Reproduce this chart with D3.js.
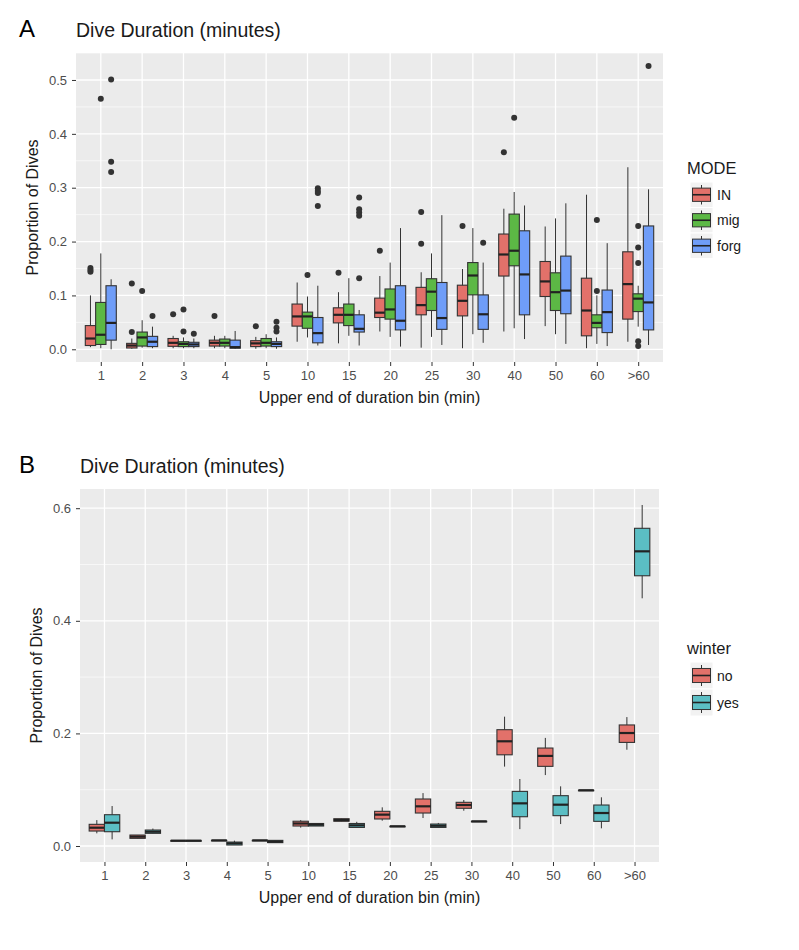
<!DOCTYPE html>
<html>
<head>
<meta charset="utf-8">
<script src="https://d3js.org/d3.v7.min.js"></script>
<style>
  body { margin: 0; background: #fff; }
  text { font-family: "Liberation Sans", Arial, sans-serif; }
</style>
</head>
<body>
<div id="chart"></div>
<script>
// ---- data ----
var bins = ["1", "2", "3", "4", "5", "10", "15", "20", "25", "30", "40", "50", "60", ">60"];

// panel A: box stats per bin = [lower whisker, q1, median, q3, upper whisker]
var modes = ["IN", "mig", "forg"];
var inStats = [
  [0.004, 0.007, 0.020, 0.044, 0.100],
  [0.001, 0.0024, 0.007, 0.011, 0.020],
  [0.002, 0.0055, 0.012, 0.020, 0.025],
  [0.002, 0.006, 0.012, 0.017, 0.025],
  [0.001, 0.005, 0.011, 0.016, 0.023],
  [0.014, 0.043, 0.061, 0.084, 0.124],
  [0.011, 0.049, 0.064, 0.077, 0.106],
  [0.033, 0.059, 0.068, 0.095, 0.136],
  [0.003, 0.064, 0.082, 0.115, 0.143],
  [0.002, 0.062, 0.090, 0.119, 0.149],
  [0.033, 0.136, 0.176, 0.214, 0.261],
  [0.043, 0.098, 0.126, 0.163, 0.228],
  [0.002, 0.025, 0.072, 0.132, 0.287],
  [0.014, 0.056, 0.121, 0.181, 0.338]
];
var migStats = [
  [0.002, 0.009, 0.027, 0.087, 0.178],
  [0.003, 0.006, 0.022, 0.032, 0.054],
  [0.002, 0.005, 0.010, 0.014, 0.022],
  [0.002, 0.006, 0.012, 0.019, 0.025],
  [0.002, 0.006, 0.012, 0.020, 0.028],
  [0.022, 0.039, 0.061, 0.069, 0.098],
  [0.025, 0.044, 0.064, 0.084, 0.132],
  [0.023, 0.056, 0.074, 0.112, 0.161],
  [0.023, 0.072, 0.107, 0.131, 0.178],
  [0.028, 0.101, 0.137, 0.161, 0.225],
  [0.039, 0.155, 0.183, 0.251, 0.292],
  [0.028, 0.072, 0.106, 0.142, 0.243],
  [0.010, 0.040, 0.049, 0.064, 0.100],
  [0.042, 0.070, 0.094, 0.103, 0.118]
];
var forgStats = [
  [0.000, 0.017, 0.049, 0.118, 0.130],
  [0.002, 0.005, 0.014, 0.024, 0.042],
  [0.002, 0.005, 0.009, 0.013, 0.020],
  [0.001, 0.002, 0.004, 0.017, 0.034],
  [0.001, 0.005, 0.010, 0.014, 0.022],
  [0.007, 0.012, 0.030, 0.059, 0.118],
  [0.007, 0.032, 0.038, 0.064, 0.073],
  [0.005, 0.036, 0.053, 0.118, 0.225],
  [0.008, 0.037, 0.058, 0.124, 0.249],
  [0.012, 0.037, 0.065, 0.101, 0.161],
  [0.019, 0.064, 0.139, 0.220, 0.267],
  [0.010, 0.066, 0.109, 0.173, 0.271],
  [0.006, 0.031, 0.069, 0.110, 0.197],
  [0.008, 0.036, 0.087, 0.229, 0.297]
];
// outliers per bin
var inOut = [[0.151, 0.147, 0.144], [0.122, 0.032], [0.065], [0.062], [0.043], [], [0.142], [0.183], [0.255, 0.196], [0.229], [0.366], [], [], []];
var migOut = [[0.465], [0.108], [0.074, 0.033], [], [], [0.138], [], [], [], [], [0.430], [], [0.240, 0.108], [0.229, 0.189, 0.160, 0.015, 0.006]];
var forgOut = [[0.501, 0.348, 0.329], [0.062], [0.029], [], [0.051, 0.040, 0.033], [0.299, 0.294, 0.290, 0.266], [0.282, 0.260, 0.254, 0.248, 0.132], [], [], [0.198], [], [], [], [0.526]];

// panel B
var winters = ["no", "yes"];
var noStats = [
  [0.0225, 0.0266, 0.0325, 0.0385, 0.046],
  [0.0136, 0.0136, 0.0166, 0.0195, 0.0195],
  [0.0095, 0.0095, 0.0095, 0.0095, 0.0095],
  [0.010, 0.010, 0.010, 0.010, 0.010],
  [0.010, 0.010, 0.010, 0.010, 0.010],
  [0.0326, 0.0355, 0.040, 0.044, 0.046],
  [0.044, 0.044, 0.046, 0.0485, 0.0485],
  [0.045, 0.048, 0.0557, 0.0616, 0.0687],
  [0.0497, 0.0586, 0.0705, 0.0835, 0.094],
  [0.0627, 0.067, 0.0728, 0.0776, 0.0817],
  [0.141, 0.162, 0.186, 0.2066, 0.2297],
  [0.126, 0.1415, 0.160, 0.174, 0.192],
  [0.099, 0.099, 0.099, 0.099, 0.099],
  [0.171, 0.184, 0.2007, 0.215, 0.229]
];
var yesStats = [
  [0.0118, 0.0254, 0.0414, 0.0556, 0.071],
  [0.0225, 0.0225, 0.0254, 0.0284, 0.031],
  [0.0095, 0.0095, 0.0095, 0.0095, 0.0095],
  [0.0018, 0.0018, 0.0047, 0.007, 0.0095],
  [0.006, 0.006, 0.0077, 0.010, 0.010],
  [0.0355, 0.0355, 0.0379, 0.040, 0.040],
  [0.033, 0.033, 0.0367, 0.040, 0.043],
  [0.035, 0.035, 0.035, 0.035, 0.035],
  [0.033, 0.033, 0.036, 0.039, 0.041],
  [0.0438, 0.0438, 0.0438, 0.0438, 0.0438],
  [0.030, 0.052, 0.0758, 0.097, 0.119],
  [0.039, 0.0539, 0.0734, 0.0894, 0.106],
  [0.0314, 0.0438, 0.0586, 0.0728, 0.0865],
  [0.440, 0.480, 0.5234, 0.5643, 0.6057]
];

var yTicksA = [0, 0.1, 0.2, 0.3, 0.4, 0.5];
var yMinorA = [0.05, 0.15, 0.25, 0.35, 0.45, 0.55];
var yTicksB = [0, 0.2, 0.4, 0.6];
var yMinorB = [0.1, 0.3, 0.5];

var coloursA = ["#E2716A", "#5CB845", "#6F9DF8"];
var coloursB = ["#E2716A", "#5BBEC4"];

var svg = d3.select("#chart").append("svg")
  .attr("width", 799).attr("height", 950);

function drawPanel(cfg) {
  var g = svg.append("g");
  var x = d3.scalePoint().domain(bins).range([cfg.left, cfg.right]).padding(0.6);
  var y = d3.scaleLinear().domain(cfg.yDomain).range([cfg.bottom, cfg.top]);
  var step = x.step();

  // panel background
  g.append("rect")
    .attr("x", cfg.left).attr("y", cfg.top)
    .attr("width", cfg.right - cfg.left).attr("height", cfg.bottom - cfg.top)
    .attr("fill", "#EBEBEB");

  // grid
  g.selectAll(".minor").data(cfg.minor.filter(function(d) { return y(d) >= cfg.top; }))
    .enter().append("line")
    .attr("x1", cfg.left).attr("x2", cfg.right)
    .attr("y1", function(d) { return y(d); }).attr("y2", function(d) { return y(d); })
    .attr("stroke", "#fff").attr("stroke-width", 0.6);
  g.selectAll(".majorY").data(cfg.ticks).enter().append("line")
    .attr("x1", cfg.left).attr("x2", cfg.right)
    .attr("y1", function(d) { return y(d); }).attr("y2", function(d) { return y(d); })
    .attr("stroke", "#fff").attr("stroke-width", 1.3);
  g.selectAll(".majorX").data(bins).enter().append("line")
    .attr("x1", function(d) { return x(d); }).attr("x2", function(d) { return x(d); })
    .attr("y1", cfg.top).attr("y2", cfg.bottom)
    .attr("stroke", "#fff").attr("stroke-width", 1.3);

  // axes
  var yAxis = g.append("g")
    .attr("transform", "translate(" + cfg.left + ",0)")
    .call(d3.axisLeft(y).tickValues(cfg.ticks).tickFormat(d3.format(".1f")).tickSize(4).tickPadding(5));
  var xAxis = g.append("g")
    .attr("transform", "translate(0," + cfg.bottom + ")")
    .call(d3.axisBottom(x).tickSize(4).tickPadding(5));
  [xAxis, yAxis].forEach(function(a) {
    a.attr("font-size", null);
    a.select(".domain").remove();
    a.selectAll(".tick line").attr("stroke", "#333");
    a.selectAll("text").attr("fill", "#4D4D4D").style("font-size", "13px")
      .style("font-family", "'Liberation Sans', Arial, sans-serif");
  });

  // boxes
  var n = cfg.series.length;
  var w = 0.75 * step / n;
  cfg.series.forEach(function(stats, si) {
    var off = (si - (n - 1) / 2) * w;
    var grp = g.append("g");
    var items = stats.map(function(s, i) { return {bin: bins[i], s: s, out: cfg.outliers ? cfg.outliers[si][i] : []}; });
    var cx = function(d) { return x(d.bin) + off; };

    grp.selectAll(".whisk").data(items).enter().append("line")
      .attr("x1", cx).attr("x2", cx)
      .attr("y1", function(d) { return y(d.s[4]); }).attr("y2", function(d) { return y(d.s[0]); })
      .attr("stroke", "#333").attr("stroke-width", 1);
    grp.selectAll(".box").data(items).enter().append("rect")
      .attr("x", function(d) { return cx(d) - w / 2; })
      .attr("y", function(d) { return y(d.s[3]); })
      .attr("width", w)
      .attr("height", function(d) { return Math.max(0.5, y(d.s[1]) - y(d.s[3])); })
      .attr("fill", cfg.colours[si]).attr("stroke", "#333").attr("stroke-width", 1.1);
    grp.selectAll(".med").data(items).enter().append("line")
      .attr("x1", function(d) { return cx(d) - w / 2; }).attr("x2", function(d) { return cx(d) + w / 2; })
      .attr("y1", function(d) { return y(d.s[2]); }).attr("y2", function(d) { return y(d.s[2]); })
      .attr("stroke", "#222").attr("stroke-width", 2.2);
    items.forEach(function(d) {
      grp.selectAll(null).data(d.out).enter().append("circle")
        .attr("cx", cx(d)).attr("cy", function(v) { return y(v); })
        .attr("r", 3).attr("fill", "#333");
    });
  });

  // titles
  g.append("text").attr("x", 19).attr("y", cfg.top - 16)
    .style("font-size", "24px").attr("fill", "#000").text(cfg.letter);
  g.append("text").attr("x", cfg.left).attr("y", cfg.top - 16)
    .style("font-size", "19.5px").attr("fill", "#1a1a1a").text("Dive Duration (minutes)");
  g.append("text")
    .attr("transform", "translate(" + (cfg.left - 38) + "," + ((cfg.top + cfg.bottom) / 2) + ")rotate(-90)")
    .attr("text-anchor", "middle")
    .style("font-size", "16px").attr("fill", "#1a1a1a").text("Proportion of Dives");
  g.append("text")
    .attr("x", (cfg.left + cfg.right) / 2).attr("y", cfg.bottom + 41)
    .attr("text-anchor", "middle")
    .style("font-size", "16px").attr("fill", "#1a1a1a").text("Upper end of duration bin (min)");

  // legend
  var lg = g.append("g").attr("transform", "translate(" + cfg.legX + "," + cfg.legY + ")");
  lg.append("text").attr("x", -3).attr("y", 0)
    .style("font-size", "16.5px").attr("fill", "#1a1a1a").text(cfg.legTitle);
  cfg.names.forEach(function(name, i) {
    var ky = 8 + i * cfg.keyH;
    var kw = 23;
    lg.append("rect").attr("x", 0).attr("y", ky).attr("width", kw).attr("height", cfg.keyH)
      .attr("fill", "#F2F2F2").attr("stroke", "#fff").attr("stroke-width", 1);
    lg.append("line").attr("x1", kw / 2).attr("x2", kw / 2).attr("y1", ky + 3).attr("y2", ky + cfg.keyH - 3)
      .attr("stroke", "#333").attr("stroke-width", 1);
    lg.append("rect").attr("x", 2.5).attr("y", ky + cfg.keyH * 0.24).attr("width", kw - 5).attr("height", cfg.keyH * 0.52)
      .attr("fill", cfg.colours[i]).attr("stroke", "#333").attr("stroke-width", 1);
    lg.append("line").attr("x1", 2.5).attr("x2", kw - 2.5).attr("y1", ky + cfg.keyH / 2).attr("y2", ky + cfg.keyH / 2)
      .attr("stroke", "#222").attr("stroke-width", 1.6);
    lg.append("text").attr("x", kw + 4).attr("y", ky + cfg.keyH / 2).attr("dy", "0.36em")
      .style("font-size", "14px").attr("fill", "#1a1a1a").text(name);
  });
}

drawPanel({
  letter: "A", left: 76, right: 663, top: 53, bottom: 362,
  yDomain: [-0.0236, 0.5501], ticks: yTicksA, minor: yMinorA,
  series: [inStats, migStats, forgStats], outliers: [inOut, migOut, forgOut],
  colours: coloursA, names: modes, legTitle: "MODE", legX: 690, legY: 174, keyH: 25.5
});

drawPanel({
  letter: "B", left: 80, right: 659, top: 489, bottom: 862,
  yDomain: [-0.0284, 0.6341], ticks: yTicksB, minor: yMinorB,
  series: [noStats, yesStats], outliers: null,
  colours: coloursB, names: winters, legTitle: "winter", legX: 690, legY: 654, keyH: 27
});
</script>
</body>
</html>
